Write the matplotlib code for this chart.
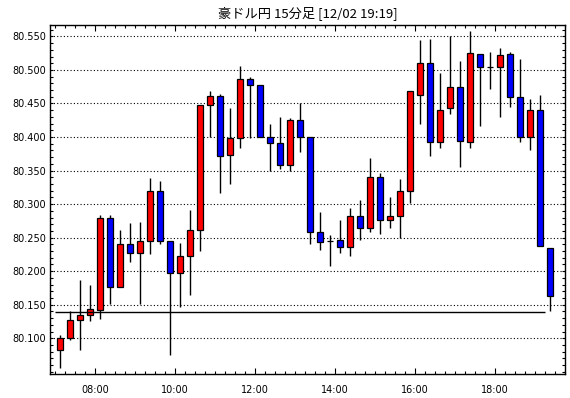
import matplotlib
matplotlib.use("Agg")
import matplotlib.pyplot as plt
from matplotlib.ticker import MultipleLocator, FixedLocator
import numpy as np

title = "豪ドル円 15分足 [12/02 19:19]"
start_hour = 7.0          # first bar 07:00, 15-minute bars
bar_hours = 0.25

opens = [80.082, 80.100, 80.127, 80.134, 80.142, 80.280, 80.176, 80.240, 80.227, 80.245,
         80.319, 80.245, 80.197, 80.222, 80.261, 80.447, 80.461, 80.373, 80.398, 80.487,
         80.477, 80.400, 80.391, 80.359, 80.425, 80.400, 80.258, 80.245, 80.246, 80.236,
         80.282, 80.265, 80.340, 80.276, 80.282, 80.319, 80.462, 80.510, 80.392, 80.443,
         80.474, 80.392, 80.523, 80.504, 80.504, 80.523, 80.459, 80.400, 80.440, 80.235]
highs = [80.105, 80.141, 80.187, 80.179, 80.284, 80.284, 80.261, 80.272, 80.274, 80.339,
         80.334, 80.245, 80.242, 80.291, 80.447, 80.469, 80.464, 80.443, 80.506, 80.489,
         80.477, 80.419, 80.430, 80.428, 80.450, 80.400, 80.288, 80.254, 80.276, 80.294,
         80.306, 80.369, 80.346, 80.311, 80.337, 80.468, 80.545, 80.546, 80.495, 80.550,
         80.513, 80.558, 80.523, 80.527, 80.532, 80.526, 80.517, 80.457, 80.463, 80.235]
lows = [80.055, 80.097, 80.083, 80.126, 80.128, 80.151, 80.176, 80.214, 80.151, 80.225,
        80.240, 80.075, 80.147, 80.164, 80.230, 80.400, 80.317, 80.330, 80.383, 80.398,
        80.400, 80.350, 80.353, 80.350, 80.378, 80.240, 80.232, 80.207, 80.227, 80.223,
        80.246, 80.259, 80.256, 80.265, 80.250, 80.302, 80.419, 80.371, 80.383, 80.435,
        80.356, 80.383, 80.417, 80.471, 80.430, 80.444, 80.392, 80.380, 80.237, 80.141]
closes = [80.100, 80.127, 80.134, 80.143, 80.280, 80.176, 80.240, 80.227, 80.245, 80.319,
          80.245, 80.197, 80.222, 80.261, 80.447, 80.461, 80.372, 80.398, 80.487, 80.477,
          80.400, 80.391, 80.359, 80.425, 80.400, 80.258, 80.244, 80.245, 80.236, 80.282,
          80.265, 80.340, 80.276, 80.282, 80.319, 80.468, 80.510, 80.392, 80.441, 80.474,
          80.394, 80.525, 80.504, 80.504, 80.522, 80.459, 80.400, 80.440, 80.237, 80.163]
ref_line = 80.139
ref_line_end_hour = 19.25
hour_labels = ["08:00", "10:00", "12:00", "14:00", "16:00", "18:00"]
hour_ticks = [8, 10, 12, 14, 16, 18]
y_ticks = [80.10, 80.15, 80.20, 80.25, 80.30, 80.35, 80.40, 80.45, 80.50, 80.55]

plt.rcParams['font.family'] = ['DejaVu Sans']

fig = plt.figure(figsize=(5.70, 3.98), dpi=100)
ax = fig.add_axes([50/570, 1-374.3/398, 515/570, (374.3-24.7)/398])

o = np.array(opens); h = np.array(highs); l = np.array(lows); c = np.array(closes)
x = start_hour + bar_hours * (np.arange(len(o)) + 0.5)
up = c >= o
colors = np.where(up, '#ff0000', '#0000ff')

ax.vlines(x, l, h, color='black', linewidth=1.0, zorder=2)
bottoms = np.minimum(o, c)
heights = np.abs(c - o)
ax.bar(x, heights, bottom=bottoms, width=0.165, color=colors, edgecolor='black',
       linewidth=0.9, zorder=3)

ax.hlines(ref_line, start_hour, ref_line_end_hour, color='black', linewidth=1.0, zorder=4)

ax.set_xlim(6.875, 19.75)
ax.set_ylim(80.0463, 80.5674)

ax.yaxis.set_major_locator(FixedLocator(y_ticks))
ax.yaxis.set_minor_locator(MultipleLocator(0.01))
ax.set_yticklabels(["%.3f" % v for v in y_ticks])
ax.xaxis.set_major_locator(FixedLocator(hour_ticks))
ax.set_xticklabels(hour_labels)
ax.xaxis.set_minor_locator(MultipleLocator(0.25))

ax.grid(axis='y', which='major', linestyle=(0, (1, 2)), color='black', linewidth=0.8)
ax.set_axisbelow(True)

ax.tick_params(axis='both', which='both', direction='in', top=True, right=True,
               labelsize=7, colors='black')
ax.tick_params(axis='y', which='major', length=2.2, width=0.8, pad=3)
ax.tick_params(axis='y', which='minor', length=2.0, width=0.8)
ax.tick_params(axis='x', which='major', length=4.0, width=0.8, pad=8)
ax.tick_params(axis='x', which='minor', length=2.0, width=0.8)
for s in ax.spines.values():
    s.set_linewidth(1.0)

fig.text((50+565)/2/570, 1-13/398, title, ha='center', va='center', fontsize=9.5,
         family=['Noto Sans CJK JP', 'DejaVu Sans'])

fig.savefig("out.png", dpi=100)
